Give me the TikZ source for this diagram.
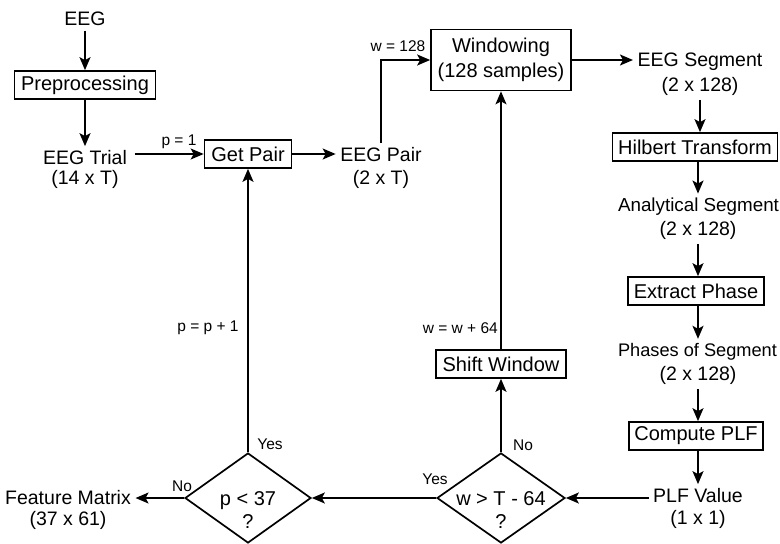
\documentclass[tikz,border=0pt]{standalone}
\usepackage{fontspec}
\setmainfont{Liberation Sans}
\usetikzlibrary{arrows.meta,shapes.geometric,calc}

\begin{document}
\begin{tikzpicture}[x=1pt,y=-1pt,
  every node/.style={inner sep=2pt},
  txt/.style={font=\fontsize{19.5}{22}\selectfont,inner sep=4.5pt},
  small/.style={font=\fontsize{15.5}{18}\selectfont},
  procbox/.style={draw,line width=1.7pt,font=\fontsize{20}{25}\selectfont,
    minimum height=28pt,inner sep=3pt,align=center},
  decision/.style={diamond,draw,line width=1.7pt,minimum width=128pt,
    minimum height=90pt,inner sep=0pt},
  dtext/.style={font=\fontsize{20}{23}\selectfont,align=center},
  arr/.style={line width=1.6pt,-{Stealth[length=13pt,width=11pt,inset=3pt]}},
  ln/.style={line width=1.6pt}]

\useasboundingbox (0,0) rectangle (780,544);

% data labels
\node[txt] (eeg) at (85,19) {EEG};
\node[txt] (trial) at (85,158) {EEG Trial};
\node[txt] (trialdim) at (85,179) {(14 x T)};
\node[txt] (pair) at (381,155) {EEG Pair};
\node[txt] (pairdim) at (381,179) {(2 x T)};
\node[txt] (seg) at (700,62) {EEG Segment};
\node[txt] (segdim) at (700,86) {(2 x 128)};
\node[txt,font=\fontsize{18.8}{22}\selectfont] (ana) at (698.5,207) {Analytical Segment};
\node[txt] (anadim) at (698,230) {(2 x 128)};
\node[txt,font=\fontsize{18.2}{22}\selectfont] (pha) at (697.5,352) {Phases of Segment};
\node[txt] (phadim) at (698,375) {(2 x 128)};
\node[txt] (plfv) at (698,496) {PLF Value};
\node[txt] (plfvdim) at (698,519) {(1 x 1)};
\node[txt] (feat) at (68,498) {Feature Matrix};
\node[txt] (featdim) at (68,520) {(37 x 61)};

% processing steps
\node[procbox,minimum width=141pt] (pre) at (85,85) {Preprocessing};
\node[procbox,minimum width=87pt] (gp) at (248,154) {Get Pair};
\node[procbox,minimum width=140pt,minimum height=61pt] (win) at (501,60) {Windowing\\(128 samples)};
\node[procbox,minimum width=165pt] (hil) at (695,147) {Hilbert Transform};
\node[procbox,minimum width=136pt] (ext) at (696,291) {Extract Phase};
\node[procbox,minimum width=134pt] (plf) at (696,436) {Compute PLF};
\node[procbox,minimum width=130pt] (shift) at (501,364) {Shift Window};

% decisions
\node[decision] (d1) at (501,498) {};
\node[dtext] (d1t) at (501,510) {w > T - 64\\?};
\node[decision,minimum width=126pt] (d2) at (248,498) {};
\node[dtext] (d2t) at (248,510) {p < 37\\?};

% small annotations
\node[small] (lp1) at (179,142) {p = 1};
\node[small] (lw128) at (398,46) {w = 128};
\node[small,anchor=east] (lwinc) at (500,328) {w = w + 64};
\node[small] (lpinc) at (208,328) {p = p + 1};
\node[small] (no1) at (523,445) {No};
\node[small] (yes1) at (435,479) {Yes};
\node[small] (yes2) at (270,444) {Yes};
\node[small] (no2) at (182,486) {No};

% connectors
\draw[arr] (eeg.south) -- (pre.north);
\draw[arr] (pre.south) -- (trial.north);
\draw[arr] ([xshift=3pt]trial.east |- gp.west) -- (gp.west);
\draw[arr] (gp.east) -- (gp.east -| pair.west);
\draw[arr] (pair.north) |- (win.west);
\draw[arr] (win.east) -- (win.east -| seg.west);
\draw[arr] (segdim.south) -- (segdim.south |- hil.north);
\draw[arr] (hil.south -| anadim.south) -- (ana.north -| anadim.south);
\draw[arr] (anadim.south) -- (anadim.south |- ext.north);
\draw[arr] (ext.south -| phadim.south) -- (pha.north -| phadim.south);
\draw[arr] (phadim.south) -- (phadim.south |- plf.north);
\draw[arr] (plf.south -| plfv.north) -- (plfv.north);
\draw[arr] (plfv.west |- d1.east) -- (d1.east);
\draw[arr] (d1.north) -- (shift.south);
\draw[arr] (shift.north) -- (win.south);
\draw[arr] (d1.west) -- (d2.east);
\draw[arr] (d2.north) -- (gp.south);
\draw[arr] (d2.west) -- (feat.east |- d2.west);
\end{tikzpicture}
\end{document}
